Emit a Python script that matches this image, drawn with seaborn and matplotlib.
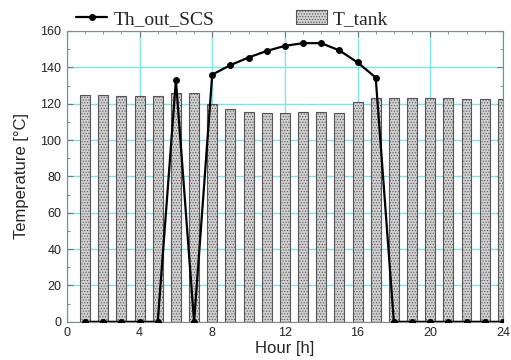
import matplotlib
matplotlib.use("Agg")
import matplotlib.pyplot as plt
import seaborn as sns
import pandas as pd
from matplotlib.lines import Line2D
from matplotlib.patches import Patch
from matplotlib.ticker import MultipleLocator

hours = list(range(1, 25))
t_tank = [124.5, 124.5, 124.4, 124.4, 124.0, 126.0, 126.1, 119.6, 116.9, 115.2,
          114.8, 114.8, 115.2, 115.2, 114.8, 120.7, 122.9, 123.0, 123.0, 123.0,
          123.0, 122.6, 122.5, 122.5]
th_out_scs = [0, 0, 0, 0, 0, 133.0, 0, 136.0, 141.2, 145.4,
              149.0, 151.8, 153.3, 153.3, 149.3, 142.7, 134.4, 0, 0, 0,
              0, 0, 0, 0]

df = pd.DataFrame({"hour": hours, "T_tank": t_tank, "Th_out_SCS": th_out_scs})

sns.set_style("white")
plt.rcParams["font.family"] = ["Liberation Sans", "DejaVu Sans"]
plt.rcParams["hatch.color"] = "#555555"
plt.rcParams["hatch.linewidth"] = 0.5

fig = plt.figure(figsize=(5.11, 3.6), dpi=100)
ax = fig.add_axes([0.131, 0.106, 0.853, 0.808])

sns.barplot(data=df, x="hour", y="T_tank", native_scale=True, width=0.55,
            color="#cfcfcf", edgecolor="#555555", linewidth=0.8,
            hatch="......", ax=ax, zorder=2)
for p in ax.patches:
    p.set_facecolor("#d0d0d0")

sns.lineplot(data=df, x="hour", y="Th_out_SCS", color="black", linewidth=1.6,
             marker="o", markersize=4.2, markeredgecolor="black", ax=ax,
             zorder=3)

ax.set_xlim(0, 24)
ax.set_ylim(0, 160)
ax.xaxis.set_major_locator(MultipleLocator(4))
ax.xaxis.set_minor_locator(MultipleLocator(1))
ax.yaxis.set_major_locator(MultipleLocator(20))
ax.yaxis.set_minor_locator(MultipleLocator(10))
ax.grid(True, which="major", color="#7fe3e8", linewidth=1.0, zorder=0)
ax.set_axisbelow(True)
ax.tick_params(which="both", direction="in", top=True, right=True,
               bottom=True, left=True,
               labeltop=False, labelright=False, color="#777777",
               labelcolor="#222222")
ax.tick_params(which="major", length=4, width=0.8, labelsize=9, pad=4)
ax.tick_params(which="minor", length=2.5, width=0.6)
for s in ax.spines.values():
    s.set_color("#888888")
    s.set_linewidth(0.8)

ax.set_xlabel("Hour [h]", fontsize=12, labelpad=1)
ax.set_ylabel("Temperature [°C]", fontsize=12, labelpad=8)

handles = [
    Line2D([0], [0], color="black", linewidth=1.6, marker="o", markersize=4),
    Patch(facecolor="#d0d0d0", edgecolor="#555555", hatch="......", linewidth=0.8),
]
fig.legend(handles, ["Th_out_SCS", "T_tank"], loc="upper left",
           bbox_to_anchor=(0.115, 1.02), ncol=2, frameon=False,
           prop={"family": "Liberation Serif", "size": 14},
           handlelength=1.6, handletextpad=0.3, columnspacing=4.2)

fig.savefig("out.png", dpi=100)
